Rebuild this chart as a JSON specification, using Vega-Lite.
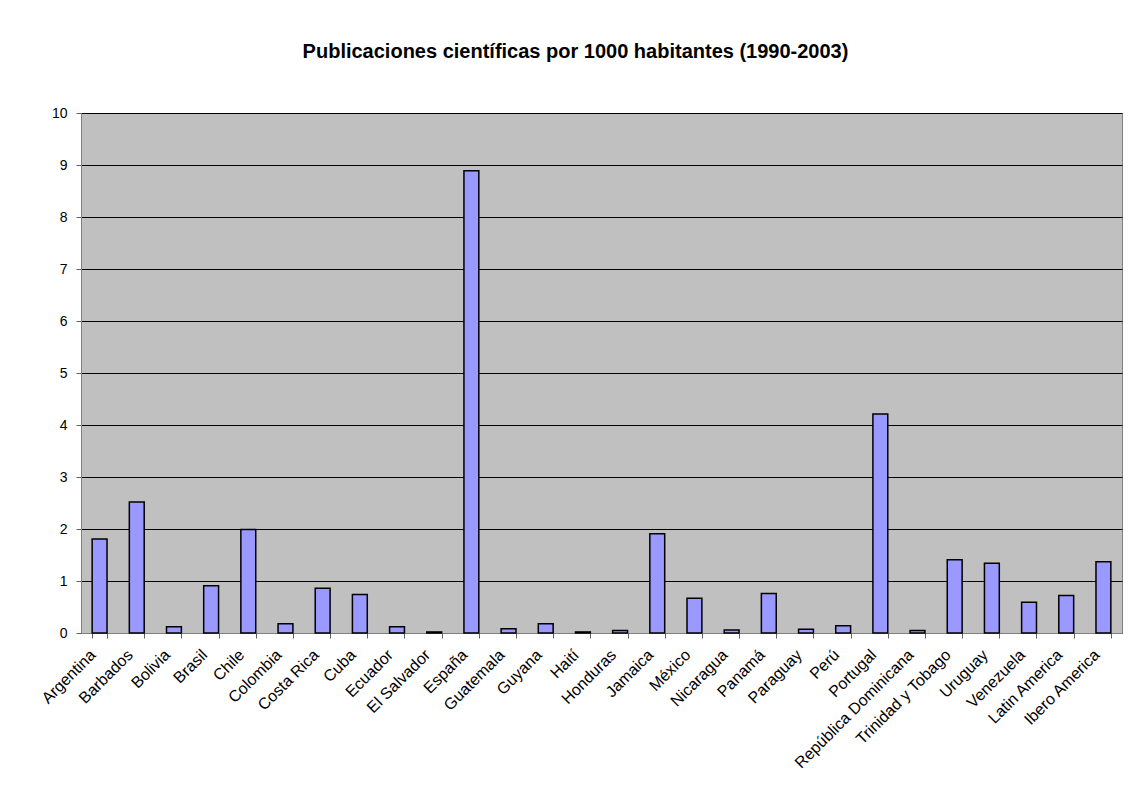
{
  "$schema": "https://vega.github.io/schema/vega-lite/v6.json",
  "width": 1041,
  "height": 520,
  "autosize": "none",
  "padding": {"left": 81, "top": 113, "right": 10, "bottom": 165},
  "background": "white",
  "title": {
    "text": "Publicaciones científicas por 1000 habitantes (1990-2003)",
    "font": "Liberation Sans",
    "fontSize": 20,
    "fontWeight": "bold",
    "color": "black",
    "anchor": "middle",
    "dx": -26,
    "offset": 44
  },
  "data": {
    "values": [
      {"pais": "Argentina", "valor": 1.81},
      {"pais": "Barbados", "valor": 2.52},
      {"pais": "Bolivia", "valor": 0.12},
      {"pais": "Brasil", "valor": 0.91},
      {"pais": "Chile", "valor": 1.99},
      {"pais": "Colombia", "valor": 0.18},
      {"pais": "Costa Rica", "valor": 0.86},
      {"pais": "Cuba", "valor": 0.74},
      {"pais": "Ecuador", "valor": 0.12},
      {"pais": "El Salvador", "valor": 0.02},
      {"pais": "España", "valor": 8.89},
      {"pais": "Guatemala", "valor": 0.08},
      {"pais": "Guyana", "valor": 0.18},
      {"pais": "Haití", "valor": 0.02},
      {"pais": "Honduras", "valor": 0.05},
      {"pais": "Jamaica", "valor": 1.91},
      {"pais": "México", "valor": 0.67},
      {"pais": "Nicaragua", "valor": 0.06},
      {"pais": "Panamá", "valor": 0.76},
      {"pais": "Paraguay", "valor": 0.07},
      {"pais": "Perú", "valor": 0.14},
      {"pais": "Portugal", "valor": 4.21},
      {"pais": "República Dominicana", "valor": 0.05},
      {"pais": "Trinidad y Tobago", "valor": 1.41},
      {"pais": "Uruguay", "valor": 1.34},
      {"pais": "Venezuela", "valor": 0.59},
      {"pais": "Latin America", "valor": 0.72},
      {"pais": "Ibero America", "valor": 1.37}
    ]
  },
  "mark": {"type": "bar", "fill": "#9999FF", "stroke": "black", "strokeWidth": 1.5},
  "encoding": {
    "x": {
      "field": "pais",
      "type": "nominal",
      "sort": null,
      "scale": {"paddingInner": 0.6, "paddingOuter": 0.3},
      "axis": {
        "title": null,
        "labelAngle": -45,
        "labelAlign": "right",
        "labelBaseline": "middle",
        "labelFont": "Liberation Sans",
        "labelFontSize": 16,
        "labelColor": "black",
        "labelPadding": 14,
        "labelOffset": -7,
        "labelOverlap": false,
        "labelLimit": 300,
        "tickBand": "extent",
        "tickColor": "#606060",
        "tickSize": 5,
        "domainColor": "#808080",
        "grid": false
      }
    },
    "y": {
      "field": "valor",
      "type": "quantitative",
      "scale": {"domain": [0, 10], "nice": false},
      "axis": {
        "title": null,
        "values": [0, 1, 2, 3, 4, 5, 6, 7, 8, 9, 10],
        "labelFont": "Liberation Sans",
        "labelFontSize": 14,
        "labelColor": "black",
        "labelPadding": 9,
        "tickColor": "#606060",
        "tickSize": 5,
        "domainColor": "#808080",
        "gridColor": "black",
        "gridOpacity": 1,
        "gridWidth": 1
      }
    }
  },
  "config": {
    "view": {"fill": "#C0C0C0", "stroke": "#808080"}
  }
}
